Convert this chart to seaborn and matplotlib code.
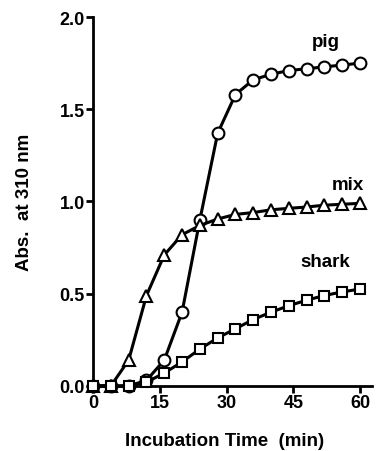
import matplotlib.pyplot as plt
import seaborn as sns
import pandas as pd

# incubation time (min)
time = [0, 4, 8, 12, 16, 20, 24, 28, 32, 36, 40, 44, 48, 52, 56, 60]
pig = [0.0, 0.0, 0.0, 0.03, 0.14, 0.40, 0.90, 1.37, 1.58, 1.66, 1.69, 1.71, 1.72, 1.73, 1.74, 1.75]
mix = [0.0, 0.0, 0.14, 0.49, 0.71, 0.82, 0.87, 0.905, 0.93, 0.94, 0.955, 0.963, 0.97, 0.98, 0.985, 0.99]
shark = [0.0, 0.0, 0.0, 0.02, 0.07, 0.13, 0.20, 0.26, 0.31, 0.36, 0.40, 0.435, 0.465, 0.49, 0.51, 0.525]

series = ['pig', 'mix', 'shark']
markers = {'pig': 'o', 'mix': '^', 'shark': 's'}
msizes = {'pig': 8.5, 'mix': 8, 'shark': 6.5}
label_pos = {'pig': (52.4, 1.865), 'mix': (57.3, 1.09), 'shark': (52.2, 0.672)}

df = pd.DataFrame({'time': time, 'pig': pig, 'mix': mix, 'shark': shark})
long_df = df.melt(id_vars='time', var_name='sample', value_name='abs')

sns.set_style('ticks')
plt.rcParams['font.family'] = ['Liberation Sans', 'DejaVu Sans']
plt.rcParams['font.weight'] = 'bold'
plt.rcParams['text.color'] = 'black'
plt.rcParams['axes.labelcolor'] = 'black'
plt.rcParams['xtick.color'] = 'black'
plt.rcParams['ytick.color'] = 'black'
plt.rcParams['axes.edgecolor'] = 'black'

fig = plt.figure(figsize=(3.8, 4.52), dpi=100)
ax = fig.add_axes([0.245, 0.144, 0.734, 0.816])

for name in series:
    sub = long_df[long_df['sample'] == name]
    sns.lineplot(data=sub, x='time', y='abs', ax=ax, color='black', linewidth=2.2,
                 marker=markers[name], markersize=msizes[name], markerfacecolor='white',
                 markeredgecolor='black', markeredgewidth=1.5, clip_on=False, zorder=3)
    ax.text(label_pos[name][0], label_pos[name][1], name, ha='center', va='center',
            fontsize=13.5, fontweight='bold', color='black')

ax.set_xlim(0, 62.7)
ax.set_ylim(0, 2.0)
ax.set_xticks([0, 15, 30, 45, 60])
ax.set_yticks([0.0, 0.5, 1.0, 1.5, 2.0])
ax.set_yticklabels(['0.0', '0.5', '1.0', '1.5', '2.0'])
ax.tick_params(axis='both', direction='out', length=5, width=2, labelsize=13, pad=1,
               colors='black')
for lbl in ax.get_xticklabels() + ax.get_yticklabels():
    lbl.set_fontweight('bold')

ax.set_xlabel('Incubation Time  (min)', fontsize=13.5, fontweight='bold', labelpad=13)
ax.set_ylabel('Abs.  at 310 nm', fontsize=13.5, fontweight='bold', labelpad=19)
ax.xaxis.set_label_coords(0.47, -0.125)

for side in ['top', 'right']:
    ax.spines[side].set_visible(False)
for side in ['left', 'bottom']:
    ax.spines[side].set_linewidth(2)
    ax.spines[side].set_color('black')

fig.savefig('out.png', dpi=100)
